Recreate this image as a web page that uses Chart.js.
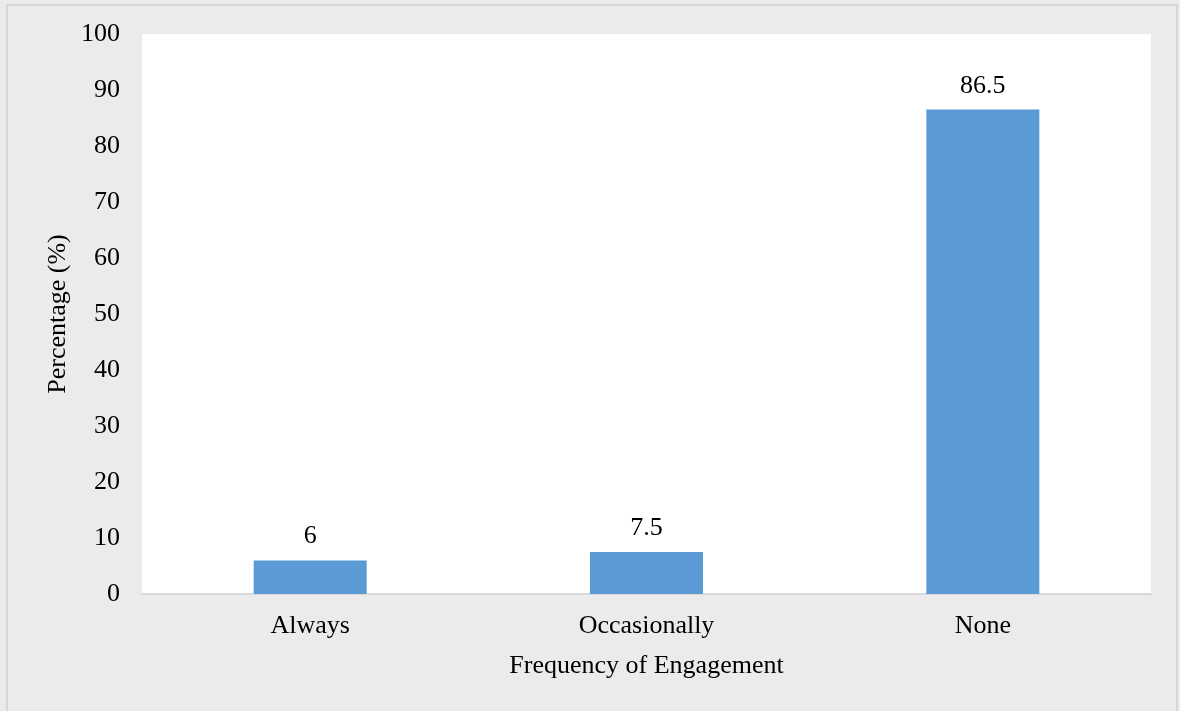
<!DOCTYPE html>
<html>
<head>
<meta charset="utf-8">
<script src="https://cdn.jsdelivr.net/npm/chart.js@4"></script>
<style>
  html, body { margin: 0; padding: 0; background: #ebebeb; }
  #wrap { width: 1180px; height: 711px; position: relative; }
</style>
</head>
<body>
<div id="wrap"><canvas id="grafico" width="1180" height="711"></canvas></div>
<script>
// datos del grafico
const categorias = ['Always', 'Occasionally', 'None'];
const porcentajes = [6, 7.5, 86.5];
const etiquetasValor = ['6', '7.5', '86.5'];
const ticksY = [0, 10, 20, 30, 40, 50, 60, 70, 80, 90, 100];

const fuente = 'Liberation Serif, Times New Roman, serif';

// fondo gris, borde exterior y area blanca
const fondoPlugin = {
    id: 'fondo',
    beforeDraw(chart) {
        const ctx = chart.ctx;
        const a = chart.chartArea;
        ctx.save();
        ctx.fillStyle = '#ebebeb';
        ctx.fillRect(0, 0, chart.width, chart.height);
        ctx.strokeStyle = '#d6d6d6';
        ctx.lineWidth = 2;
        ctx.strokeRect(7, 5, 1170, 720);
        ctx.fillStyle = '#ffffff';
        ctx.fillRect(a.left, a.top, a.right - a.left, a.bottom - a.top);
        ctx.restore();
    }
};

// etiquetas encima de cada barra
const valoresPlugin = {
    id: 'valores',
    afterDatasetsDraw(chart) {
        const ctx = chart.ctx;
        const meta = chart.getDatasetMeta(0);
        ctx.save();
        ctx.fillStyle = '#000000';
        ctx.font = '26px ' + fuente;
        ctx.textAlign = 'center';
        ctx.textBaseline = 'alphabetic';
        meta.data.forEach((bar, i) => {
            ctx.fillText(etiquetasValor[i], bar.x, bar.y - 17);
        });
        ctx.restore();
    }
};

const ctxGrafico = document.getElementById('grafico').getContext('2d');

new Chart(ctxGrafico, {
    type: 'bar',
    data: {
        labels: categorias,
        datasets: [{
            data: porcentajes,
            backgroundColor: '#5b9bd5',
            barPercentage: 0.336,
            categoryPercentage: 1
        }]
    },
    options: {
        responsive: false,
        animation: false,
        layout: { padding: { top: 34, right: 29, left: 0, bottom: 25 } },
        plugins: {
            legend: { display: false },
            tooltip: { enabled: false }
        },
        scales: {
            x: {
                grid: { display: false, drawTicks: false },
                border: { display: true, color: '#d9d9d9', width: 2 },
                ticks: { color: '#000', font: { family: fuente, size: 26 }, padding: 17 },
                title: {
                    display: true,
                    text: 'Frequency of Engagement',
                    color: '#000',
                    font: { family: fuente, size: 26 },
                    padding: { top: 6 }
                },
                afterFit(scale) {
                    scale.height = 92;
                    scale.paddingLeft = 0;
                    scale.paddingRight = 0;
                }
            },
            y: {
                min: 0,
                max: 100,
                afterBuildTicks(scale) {
                    scale.ticks = ticksY.map(v => ({ value: v }));
                },
                grid: { display: false, drawTicks: false },
                border: { display: false },
                ticks: { color: '#000', font: { family: fuente, size: 26 }, padding: 22 },
                title: {
                    display: true,
                    text: 'Percentage (%)',
                    color: '#000',
                    font: { family: fuente, size: 26 },
                    padding: { top: 43 }
                },
                afterFit(scale) {
                    scale.width = 142;
                    scale.paddingTop = 0;
                    scale.paddingBottom = 0;
                }
            }
        }
    },
    plugins: [fondoPlugin, valoresPlugin]
});
</script>
</body>
</html>
